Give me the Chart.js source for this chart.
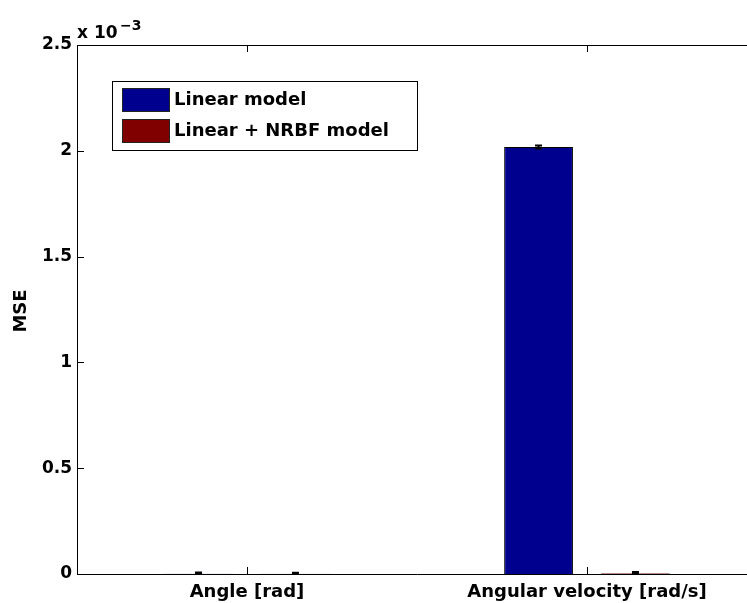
<!DOCTYPE html>
<html lang="en">
<head>
  <meta charset="UTF-8">
  <title>MSE – Linear vs. Linear + NRBF</title>
  <script src="https://cdn.jsdelivr.net/npm/chart.js"></script>
  <style>
    html, body {
      margin: 0;
      padding: 0;
      background: #fff;
      overflow: hidden;
    }
    .chart-container {
      width: 790px;
      height: 603px;
    }
  </style>
</head>
<body>

  <div class="chart-container">
    <canvas id="mseChart"></canvas>
  </div>

  <script>
    // categories and MSE values per model
    const categories = ['Angle [rad]', 'Angular velocity [rad/s]'];
    const seriesNames = ['Linear model', 'Linear + NRBF model'];
    const linearMse = [0.0000015, 0.002018];
    const nrbfMse = [0.000001, 0.000004];
    const linearErr = [0.000005, 0.000007];
    const nrbfErr = [0.000005, 0.000005];
    const yTicks = [0, 0.0005, 0.001, 0.0015, 0.002, 0.0025];

    const FONT = '"DejaVu Sans", "Liberation Sans", Arial, sans-serif';

    // error bars: whisker + caps on top of each bar
    const errorBars = {
      id: 'errorBars',
      afterDatasetsDraw(chart) {
        const ctx = chart.ctx;
        const y = chart.scales.y;
        const errs = [linearErr, nrbfErr];
        ctx.save();
        ctx.strokeStyle = '#000';
        ctx.lineWidth = 2;
        chart.data.datasets.forEach((ds, i) => {
          chart.getDatasetMeta(i).data.forEach((bar, j) => {
            const v = ds.data[j], e = errs[i][j];
            const hi = y.getPixelForValue(v + e);
            const lo = y.getPixelForValue(Math.max(v - e, 0));
            ctx.beginPath();
            ctx.moveTo(bar.x, hi); ctx.lineTo(bar.x, lo);
            ctx.moveTo(bar.x - 3.5, hi); ctx.lineTo(bar.x + 3.5, hi);
            ctx.moveTo(bar.x - 3.5, lo); ctx.lineTo(bar.x + 3.5, lo);
            ctx.stroke();
          });
        });
        ctx.restore();
      }
    };

    // box, inward ticks, exponent label, y title and legend
    const matlabFrame = {
      id: 'matlabFrame',
      afterDraw(chart) {
        const ctx = chart.ctx;
        const a = chart.chartArea;
        const x = chart.scales.x, y = chart.scales.y;
        ctx.save();
        ctx.strokeStyle = '#000';
        ctx.lineWidth = 1;
        ctx.beginPath();
        ctx.moveTo(a.left, a.top + 0.5); ctx.lineTo(a.right, a.top + 0.5);
        ctx.moveTo(a.right - 0.5, a.top); ctx.lineTo(a.right - 0.5, a.bottom);
        y.ticks.forEach(t => {
          const py = Math.round(y.getPixelForValue(t.value)) + 0.5;
          ctx.moveTo(a.left, py); ctx.lineTo(a.left + 7, py);
          ctx.moveTo(a.right, py); ctx.lineTo(a.right - 7, py);
        });
        categories.forEach((c, i) => {
          const px = Math.round(x.getPixelForValue(i)) + 0.5;
          ctx.moveTo(px, a.bottom); ctx.lineTo(px, a.bottom - 7);
          ctx.moveTo(px, a.top); ctx.lineTo(px, a.top + 7);
        });
        ctx.stroke();

        // exponent
        ctx.fillStyle = '#000';
        ctx.textBaseline = 'alphabetic';
        ctx.textAlign = 'left';
        ctx.font = 'bold 17px ' + FONT;
        ctx.fillText('x 10', a.left, 38);
        ctx.font = 'bold 14px ' + FONT;
        ctx.fillText('\u22123', a.left + 43, 30);

        // y title
        ctx.font = 'bold 18px ' + FONT;
        ctx.translate(21, 311);
        ctx.rotate(-Math.PI / 2);
        ctx.textAlign = 'center';
        ctx.textBaseline = 'middle';
        ctx.fillText('MSE', 0, 0);
        ctx.setTransform(1, 0, 0, 1, 0, 0);

        // legend
        const lx = 112, ly = 81, lw = 305, lh = 69;
        ctx.fillStyle = '#fff';
        ctx.fillRect(lx, ly, lw, lh);
        ctx.strokeRect(lx + 0.5, ly + 0.5, lw, lh);
        ctx.font = 'bold 18px ' + FONT;
        ctx.textAlign = 'left';
        ctx.textBaseline = 'middle';
        chart.data.datasets.forEach((ds, i) => {
          const sy = ly + 7 + i * 31;
          ctx.fillStyle = ds.backgroundColor;
          ctx.fillRect(lx + 10, sy, 47, 23);
          ctx.strokeStyle = '#222';
          ctx.strokeRect(lx + 10.5, sy + 0.5, 47, 23);
          ctx.fillStyle = '#000';
          ctx.fillText(ds.label, lx + 62, sy + 12);
        });
        ctx.restore();
      }
    };

    const ctx = document.getElementById('mseChart').getContext('2d');
    new Chart(ctx, {
      type: 'bar',
      data: {
        labels: categories,
        datasets: [
          {
            label: seriesNames[0],
            data: linearMse,
            backgroundColor: '#00008f',
            borderColor: '#000',
            borderWidth: 1
          },
          {
            label: seriesNames[1],
            data: nrbfMse,
            backgroundColor: '#800000',
            borderColor: '#555',
            borderWidth: 1
          }
        ]
      },
      options: {
        responsive: true,
        maintainAspectRatio: false,
        animation: false,
        categoryPercentage: 0.57,
        barPercentage: 0.71,
        layout: { padding: { top: 45, right: 33, left: 0, bottom: 0 } },
        plugins: {
          legend: { display: false },
          tooltip: { enabled: false }
        },
        scales: {
          x: {
            grid: { display: false, drawTicks: false },
            border: { display: true, color: '#000', width: 1 },
            ticks: {
              color: '#000',
              padding: 8,
              maxRotation: 0,
              font: { family: FONT, size: 18, weight: 'bold' }
            },
            afterFit(scale) { scale.height = 29; }
          },
          y: {
            min: 0,
            max: 0.0025,
            afterBuildTicks(scale) {
              scale.ticks = yTicks.map(v => ({ value: v }));
            },
            grid: { display: false, drawTicks: false },
            border: { display: true, color: '#000', width: 1 },
            ticks: {
              color: '#000',
              padding: 5,
              font: { family: FONT, size: 17, weight: 'bold' },
              callback: v => String(Number((v * 1000).toFixed(1)))
            },
            afterFit(scale) { scale.width = 77; }
          }
        }
      },
      plugins: [errorBars, matlabFrame]
    });
  </script>
</body>
</html>
